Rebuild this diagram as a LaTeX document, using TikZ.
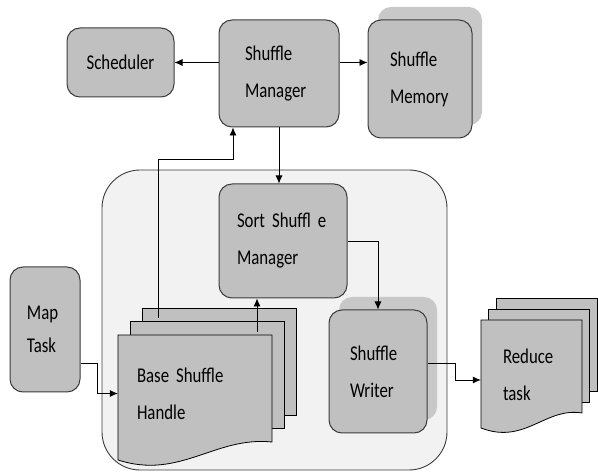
\documentclass[tikz,border=0pt]{standalone}
\usepackage{fontspec}
\setmainfont{Carlito}[FakeStretch=0.8]
\usetikzlibrary{arrows.meta}
\definecolor{boxgray}{RGB}{192,192,192}
\definecolor{shadegray}{RGB}{200,200,200}
\definecolor{stagegray}{RGB}{242,242,242}
\definecolor{edgegray}{RGB}{60,60,60}

\begin{document}
\begin{tikzpicture}[x=1pt, y=-1pt,
  font=\fontsize{21}{37}\selectfont,
  box/.style={draw=edgegray, fill=boxgray, rounded corners=13pt, line width=1pt, align=left, inner sep=2pt},
  shade/.style={fill=shadegray, rounded corners=13pt, inner sep=0pt},
  page/.style={draw=black, fill=boxgray, line width=0.8pt, inner sep=0pt},
  arr/.style={-{Latex[length=8pt,width=7pt]}, line width=0.8pt}]

 \useasboundingbox (0,0) rectangle (598,473);

	%draw stage
 \node[draw=edgegray, fill=stagegray, rounded corners=38pt, line width=0.9pt, minimum width=345pt, minimum height=300pt] (stage) at (274.5,320) {};

	%draw shadows
 \node[shade, minimum width=104pt, minimum height=118pt] (memshade) at (430,66) {};
 \node[shade, minimum width=98pt, minimum height=123pt] (writershade) at (388,358.5) {};

	%draw boxes
 \node[box, minimum width=107pt, minimum height=69pt] (sched) at (120.5,62.5) {Scheduler};
 \node[box, minimum width=120pt, minimum height=107pt, text width=68pt] (mgr) at (279,73.5) {Shuffle\\Manager};
 \node[box, minimum width=104pt, minimum height=118pt, text width=60pt] (mem) at (420,79) {Shuffle\\Memory};
 \node[box, minimum width=128pt, minimum height=114pt, text width=92pt] (sort) at (283,241) {Sort Shuffl e\\Manager};
 \node[box, minimum width=98pt, minimum height=123pt, text width=56pt] (writer) at (378,371.5) {Shuffle\\Writer};
 \node[box, minimum width=70pt, minimum height=125pt, text width=36pt, font=\fontsize{21}{33}\selectfont] (map) at (45,329.5) {Map\\Task};

	%draw base shuffle pages
 \foreach \i/\dx/\dy in {3/24/-27, 2/12/-13.5}{
   \node[page, minimum width=154pt, minimum height=107pt] (base\i) at (195+\dx, 388.5+\dy) {};
 }
 \draw[page] (118,335) -- (272,335) -- (272,442) .. controls (215,436) and (180,480) .. (118,460) -- cycle;
 \node[text width=116pt, align=left, minimum width=154pt, minimum height=107pt] (base) at (195,393.5) {Base Shuffle\\Handle};

	%draw reduce pages
 \foreach \i/\dx/\dy in {3/15/-22, 2/7.5/-10.5}{
   \node[page, minimum width=101pt, minimum height=93pt] (red\i) at (531.5+\dx, 366.5+\dy) {};
 }
 \draw[page] (481,320) -- (582,320) -- (582,413) .. controls (545,407) and (525,445) .. (481,428) -- cycle;
 \node[text width=57pt, align=left, minimum width=101pt, minimum height=93pt] (red) at (531.5,374.5) {Reduce\\task};

	%arrows
 \draw[arr] (sched.east -| mgr.west) -- (sched.east);
 \draw[arr] (sched.east -| mgr.east) -- (sched.east -| mem.west);
 \draw[arr] (mgr.south) -- (mgr.south |- sort.north);
 \coordinate (tap) at (158,318);
 \coordinate (bend) at (233,159);
 \draw[arr] (tap) |- (bend) -- (bend |- mgr.south);
 \coordinate (tap2) at (257,332);
 \draw[arr] (tap2) -- (tap2 |- sort.south);
 \draw[arr] (sort.east) -| (writer.north);
 \draw[arr] ([yshift=-33.5pt]map.east) -- ++(17,0) |- (base.west);
 \draw[arr] ([yshift=8.5pt]writer.east) -- ++(28,0) |- ([yshift=-5.5pt]red.west);

\end{tikzpicture}
\end{document}
